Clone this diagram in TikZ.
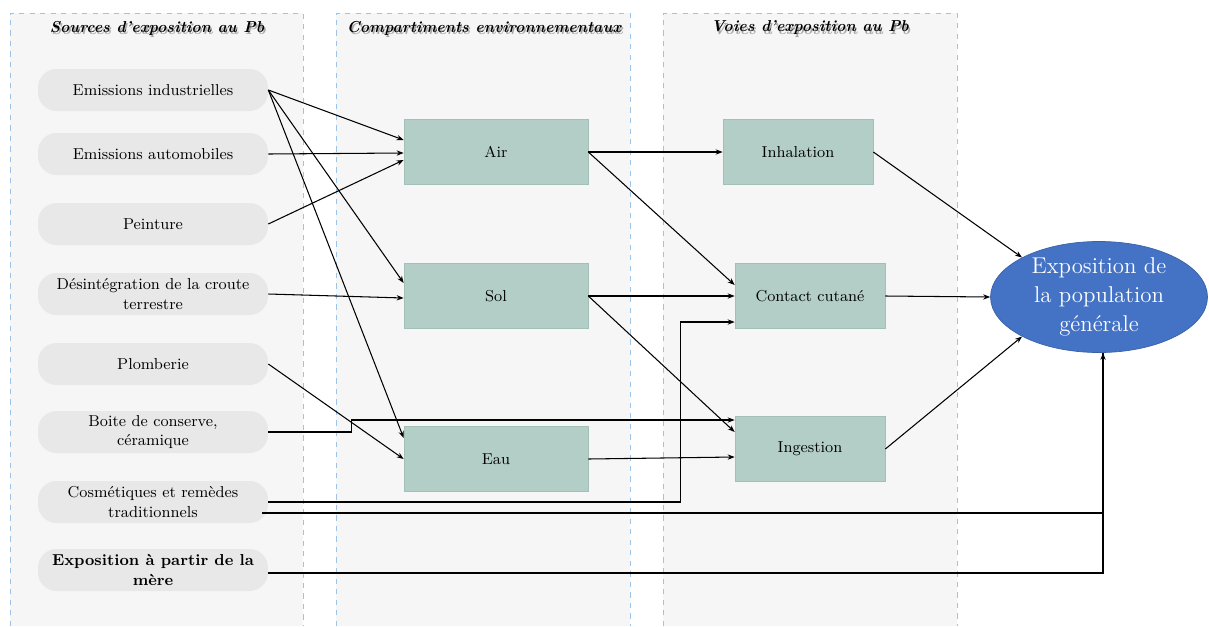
\documentclass[tikz,border=0pt]{standalone}
\usepackage{amsmath}
\usepackage{tikz}
\usetikzlibrary{calc,arrows.meta,shapes.geometric}
\usepackage{xcolor}
\definecolor{panelfill}{HTML}{F6F6F6}
\definecolor{paneldash}{HTML}{9DC3E6}
\definecolor{srcfill}{HTML}{E8E8E8}
\definecolor{boxfill}{HTML}{B3CEC6}
\definecolor{boxline}{HTML}{A3C0B7}
\definecolor{expofill}{HTML}{4472C4}

\tikzset{
  source/.style={fill=srcfill, rounded corners=10.5pt, minimum width=4.6cm,
    minimum height=0.84cm, inner sep=1pt, align=center, font=\fontsize{9}{11}\selectfont},
  compart/.style={fill=boxfill, draw=boxline, minimum width=3.68cm,
    minimum height=1.3cm, font=\fontsize{9}{11}\selectfont},
  voie/.style={compart, minimum width=3.0cm},
  expo/.style={ellipse, fill=expofill, draw=expofill!85!black, text=white,
    minimum width=4.34cm, minimum height=2.2cm, inner sep=0pt, align=center,
    font=\fontsize{13}{16.5}\selectfont},
  header/.style={font=\fontsize{9}{11}\selectfont\bfseries\itshape},
  arr/.style={-{Stealth[length=4pt,width=3pt]}, line width=0.6pt},
  lin/.style={line width=0.6pt}
}

\begin{document}
\begin{tikzpicture}[x=0.02cm,y=-0.02cm]
  \useasboundingbox (0,0) rectangle (1209,626);
  % panels
  \foreach \xa/\xb in {10/303, 336/630, 663/957} {
    \fill[panelfill] (\xa,13) rectangle (\xb,626);
    \draw[paneldash, dashed, line width=0.5pt] (\xa,626) -- (\xa,13) -- (\xb,13) -- (\xb,626);
  }
  % headers with their shadow
  \foreach \t/\xc in {{Sources d'exposition au Pb}/157, {Compartiments environnementaux}/484, {Voies d'exposition au Pb}/810} {
    \node[header, text=black!35] at (\xc+1.5,30.5) {\t};
    \node[header] at (\xc,28) {\t};
  }

  % sources
  \node[source] (ei)   at (153,90)  {Emissions industrielles};
  \node[source] (ea)   at (153,154) {Emissions automobiles};
  \node[source] (pe)   at (153,224) {Peinture};
  \node[source] (dc)   at (153,294) {Désintégration de la croute\\terrestre};
  \node[source] (pl)   at (153,364) {Plomberie};
  \node[source] (bc)   at (153,432) {Boite de conserve,\\céramique};
  \node[source] (cos)  at (153,502) {Cosmétiques et remèdes\\traditionnels};
  \node[source, font=\fontsize{9}{11}\selectfont\bfseries] (mere) at (153,570) {Exposition à partir de la\\mère};

  % compartiments
  \node[compart] (air) at (496,152) {Air};
  \node[compart] (sol) at (496,296) {Sol};
  \node[compart] (eau) at (496,459) {Eau};

  % voies
  \node[voie] (inh)  at (798,152) {Inhalation};
  \node[voie] (cont) at (810,296) {Contact cutané};
  \node[voie] (ing)  at (810,449) {Ingestion};

  \node[expo] (pop) at (1099,297) {Exposition de\\la population\\générale};

  % sources -> compartiments
  \draw[arr] (ei.east) -- ($(air.west)+(0,-12)$);
  \draw[arr] (ei.east) -- ($(sol.west)+(0,-13)$);
  \draw[arr] (ei.east) -- ($(eau.west)+(0,-21)$);
  \draw[arr] (ea.east) -- ($(air.west)+(0,1)$);
  \draw[arr] (pe.east) -- ($(air.west)+(0,8)$);
  \draw[arr] (dc.east) -- ($(sol.west)+(0,2)$);
  \draw[arr] (pl.east) -- (eau.west);
  % sources -> voies / population
  \draw[arr] (bc.east) -- ++(83,0) |- ($(ing.west)+(0,-29)$);
  \draw[arr] (cos.east) -- ++(412,0) |- ($(cont.west)+(0,26)$);
  \draw[lin] ($(cos.east)+(-6,11)$) -| ($(pop.south)+(4,0)$);
  \draw[arr] ($(mere.east)+(0,3)$) -| ($(pop.south)+(4,0)$);

  % compartiments -> voies
  \draw[arr] (air.east) -- (inh.west);
  \draw[arr] (air.east) -- ($(cont.west)+(0,-11)$);
  \draw[arr] (sol.east) -- (cont.west);
  \draw[arr] (sol.east) -- ($(ing.west)+(0,-17)$);
  \draw[arr] (eau.east) -- ($(ing.west)+(0,8)$);

  % voies -> population
  \draw[arr] (inh.east) -- (pop.north west);
  \draw[arr] (cont.east) -- (pop.west);
  \draw[arr] (ing.east) -- (pop.south west);
\end{tikzpicture}
\end{document}
